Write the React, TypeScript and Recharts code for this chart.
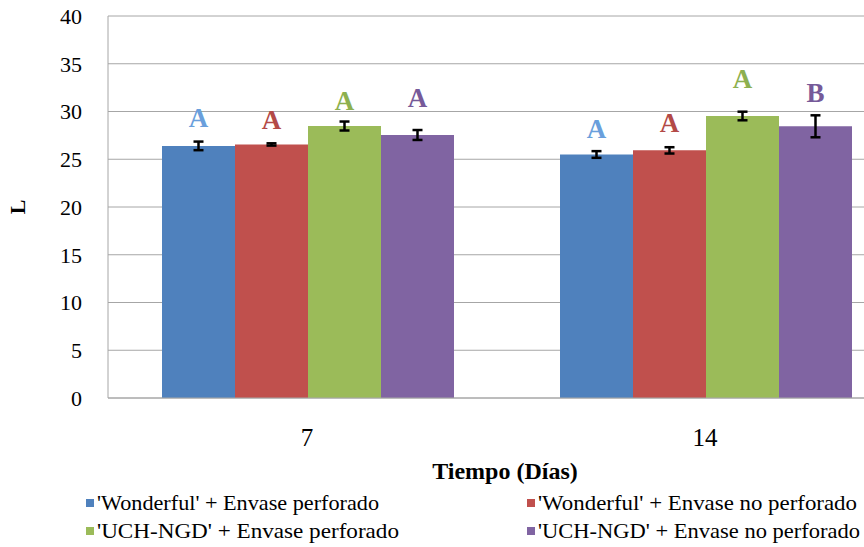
import { BarChart, Bar, XAxis, YAxis, CartesianGrid, ErrorBar, LabelList, Label } from "recharts";

// Días de almacenamiento
const DAYS = ["7", "14"];

// Valores L por tratamiento
const WONDERFUL_PERF = [26.4, 25.5];
const WONDERFUL_PERF_ERR = [0.45, 0.35];
const WONDERFUL_NOPERF = [26.55, 25.93];
const WONDERFUL_NOPERF_ERR = [0.12, 0.33];
const UCH_PERF = [28.48, 29.53];
const UCH_PERF_ERR = [0.47, 0.45];
const UCH_NOPERF = [27.54, 28.45];
const UCH_NOPERF_ERR = [0.52, 1.15];

// Letras de significancia y altura (en unidades L) de su línea base
const WONDERFUL_PERF_LETTERS = ["A", "A"];
const WONDERFUL_PERF_LETTER_AT = [28.36, 27.25];
const WONDERFUL_NOPERF_LETTERS = ["A", "A"];
const WONDERFUL_NOPERF_LETTER_AT = [28.19, 27.83];
const UCH_PERF_LETTERS = ["A", "A"];
const UCH_PERF_LETTER_AT = [30.18, 32.44];
const UCH_NOPERF_LETTERS = ["A", "B"];
const UCH_NOPERF_LETTER_AT = [30.52, 30.97];

const Y_TICKS = [0, 5, 10, 15, 20, 25, 30, 35, 40];

const FONT = "Liberation Serif";
const AXIS_GREY = "#a6a6a6";

const SERIES = [
  { key: "wp", name: "'Wonderful' + Envase perforado", color: "#4f81bd", letterColor: "#6a9fdc", values: WONDERFUL_PERF, letters: WONDERFUL_PERF_LETTERS, letterAt: WONDERFUL_PERF_LETTER_AT },
  { key: "wn", name: "'Wonderful' + Envase no perforado", color: "#c0504d", letterColor: "#b34a47", values: WONDERFUL_NOPERF, letters: WONDERFUL_NOPERF_LETTERS, letterAt: WONDERFUL_NOPERF_LETTER_AT },
  { key: "up", name: "'UCH-NGD' + Envase perforado", color: "#9bbb59", letterColor: "#8db04f", values: UCH_PERF, letters: UCH_PERF_LETTERS, letterAt: UCH_PERF_LETTER_AT },
  { key: "un", name: "'UCH-NGD' + Envase no perforado", color: "#8064a2", letterColor: "#765a99", values: UCH_NOPERF, letters: UCH_NOPERF_LETTERS, letterAt: UCH_NOPERF_LETTER_AT },
];

const data = DAYS.map((day, i) => ({
  day,
  wp: WONDERFUL_PERF[i],
  wpErr: WONDERFUL_PERF_ERR[i],
  wn: WONDERFUL_NOPERF[i],
  wnErr: WONDERFUL_NOPERF_ERR[i],
  up: UCH_PERF[i],
  upErr: UCH_PERF_ERR[i],
  un: UCH_NOPERF[i],
  unErr: UCH_NOPERF_ERR[i],
}));

// letter placed at letterAt[i] using the bar's own pixel scale (height / value)
function makeLetter(s: (typeof SERIES)[number]) {
  return (props: any) => {
    const vb = props.viewBox ?? props;
    const x = Number(props.x ?? vb.x);
    const y = Number(props.y ?? vb.y);
    const w = Number(props.width ?? vb.width);
    const h = Number(props.height ?? vb.height);
    const i = props.index ?? 0;
    const base = y + h;
    const py = base - (s.letterAt[i] / s.values[i]) * h;
    return (
      <text
        x={x + w / 2}
        y={py}
        textAnchor="middle"
        fill={s.letterColor}
        fontFamily={FONT}
        fontWeight="bold"
        fontSize={27}
      >
        {s.letters[i]}
      </text>
    );
  };
}

function SerifTick(props: any) {
  const { x, y, payload, textAnchor, fontSize, dy } = props;
  return (
    <text x={x} y={y} dy={dy} textAnchor={textAnchor} fontFamily={FONT} fontSize={fontSize} fill="#000">
      {payload.value}
    </text>
  );
}

// legend rows: two columns
const LEGEND_POS = [
  { x: 86, y: 503, len: 282 },
  { x: 527, y: 503, len: 319 },
  { x: 86, y: 531, len: 302 },
  { x: 527, y: 531, len: 322 },
];

function ChartLegend() {
  return (
    <svg width={864} height={547} style={{ position: "absolute", left: 0, top: 0, pointerEvents: "none" }}>
      {SERIES.map((s, i) => {
        const p = LEGEND_POS[i];
        return (
          <g key={s.key}>
            <rect x={p.x} y={p.y - 4} width={8} height={8} fill={s.color} />
            <text
              x={p.x + 11}
              y={p.y + 7}
              fontFamily={FONT}
              fontSize={21}
              fill="#000"
              textLength={p.len}
              lengthAdjust="spacingAndGlyphs"
            >
              {s.name}
            </text>
          </g>
        );
      })}
    </svg>
  );
}

export default function App() {
  return (
    <div style={{ position: "fixed", left: 0, top: 0, width: 864, height: 547, overflow: "hidden", background: "#fff", fontFamily: FONT }}>
      <BarChart
        width={910}
        height={547}
        data={data}
        margin={{ top: 16, right: 6, left: 0, bottom: 99 }}
        barCategoryGap={54}
        barGap={0}
      >
        <CartesianGrid vertical={false} stroke={AXIS_GREY} />
        <XAxis
          dataKey="day"
          height={50}
          tickLine={false}
          tickSize={0}
          tickMargin={30}
          axisLine={{ stroke: AXIS_GREY }}
          tick={<SerifTick fontSize={25} dy="0.71em" />}
        >
          <Label
            content={(p: any) => {
              const vb = p.viewBox;
              return (
                <text
                  x={vb.x + vb.width / 2 - 1}
                  y={vb.y + 81}
                  textAnchor="middle"
                  fontFamily={FONT}
                  fontWeight="bold"
                  fontSize={24}
                  fill="#000"
                >
                  Tiempo (Días)
                </text>
              );
            }}
          />
        </XAxis>
        <YAxis
          width={108}
          domain={[0, 40]}
          ticks={Y_TICKS}
          tickLine={false}
          tickSize={0}
          tickMargin={26}
          axisLine={{ stroke: AXIS_GREY }}
          tick={<SerifTick fontSize={22} dy="0.355em" />}
        >
          <Label
            content={(p: any) => {
              const vb = p.viewBox;
              const cx = vb.x + 17;
              const cy = vb.y + vb.height / 2;
              return (
                <text
                  x={cx}
                  y={cy}
                  transform={`rotate(-90 ${cx} ${cy})`}
                  textAnchor="middle"
                  dominantBaseline="central"
                  fontFamily={FONT}
                  fontWeight="bold"
                  fontSize={22}
                  fill="#000"
                >
                  L
                </text>
              );
            }}
          />
        </YAxis>
        {SERIES.map((s) => (
          <Bar key={s.key} dataKey={s.key} name={s.name} fill={s.color} isAnimationActive={false}>
            <ErrorBar dataKey={`${s.key}Err`} width={5} stroke="#000" strokeWidth={2.5} direction="y" />
            <LabelList dataKey={s.key} content={makeLetter(s)} />
          </Bar>
        ))}
      </BarChart>
      <ChartLegend />
    </div>
  );
}
